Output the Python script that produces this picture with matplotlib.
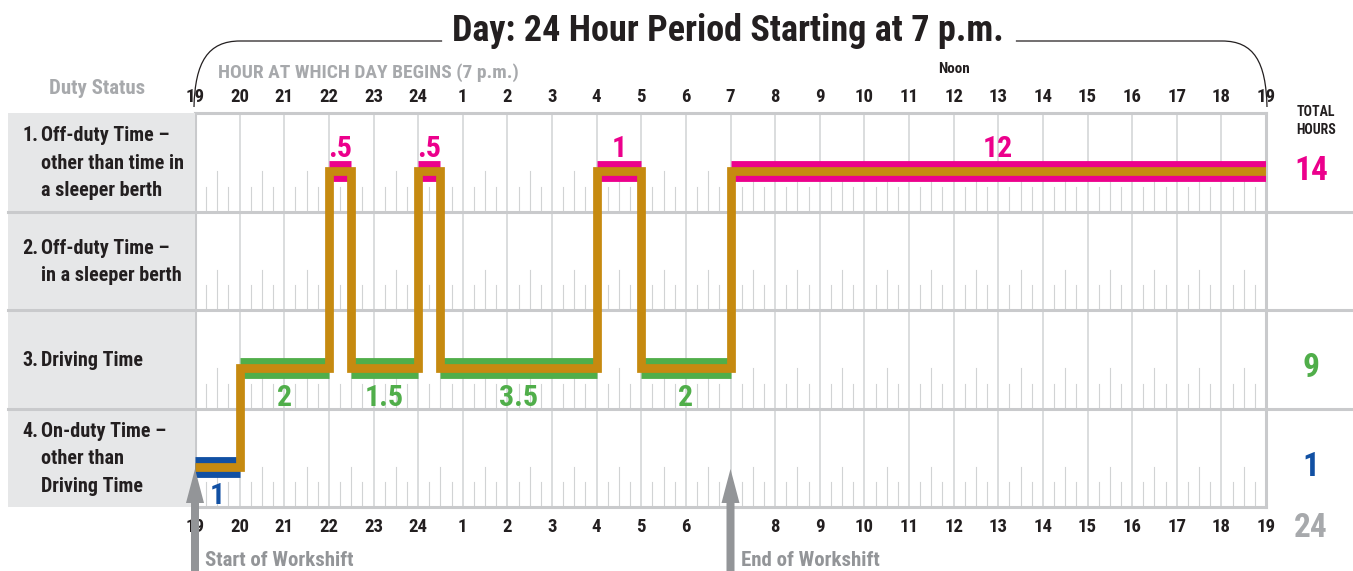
import matplotlib
matplotlib.use('Agg')
import matplotlib.pyplot as plt
from matplotlib import font_manager
from matplotlib.path import Path
from matplotlib.patches import PathPatch, Polygon, Rectangle

# ---- data -------------------------------------------------------------
top_hour_labels = ['19', '20', '21', '22', '23', '24', '1', '2', '3', '4', '5', '6',
                   '7', '8', '9', '10', '11', '12', '13', '14', '15', '16', '17', '18', '19']
bottom_hour_labels = ['19', '20', '21', '22', '23', '24', '1', '2', '3', '4', '5', '6',
                      '', '8', '9', '10', '11', '12', '13', '14', '15', '16', '17', '18', '19']
noon_index = 17

status_numbers = ['1.', '2.', '3.', '4.']
status_text = [
    ['Off-duty Time –', 'other than time in', 'a sleeper berth'],
    ['Off-duty Time –', 'in a sleeper berth'],
    ['Driving Time'],
    ['On-duty Time –', 'other than', 'Driving Time'],
]

# duty segments, hours counted from 7 p.m.
seg_start = [0, 1, 3, 3.5, 5, 5.5, 9, 10, 12]
seg_end = [1, 3, 3.5, 5, 5.5, 9, 10, 12, 24]
seg_status = [4, 3, 1, 3, 1, 3, 1, 3, 1]

shift_start = 0
shift_end = 12


# ---- font: want something narrow like the original condensed face ----
def pick_font():
    fonts = font_manager.fontManager.ttflist
    names = {f.name for f in fonts}
    for cand in ('Roboto Condensed', 'Liberation Sans Narrow', 'Noto Sans Condensed',
                 'Open Sans Condensed', 'DejaVu Sans Condensed'):
        if cand in names:
            return cand, 'normal'
    for fam in ('Noto Sans', 'Open Sans', 'Roboto', 'DejaVu Sans'):
        if any(f.name == fam and 'condensed' in str(f.stretch) for f in fonts):
            return fam, 'condensed'
    return 'Roboto', 'normal'


FAM, STRETCH = pick_font()
plt.rcParams['font.family'] = [FAM, 'DejaVu Sans']
plt.rcParams['font.stretch'] = STRETCH
plt.rcParams['font.weight'] = 'bold'

PINK = '#ec008c'
GREEN = '#50ae4a'
BLUE = '#1150a3'
GOLD = '#c68a10'
BLACK = '#231f20'
GRAY_TXT = '#a7a9ac'
ARROW = '#939598'
GRID = '#d1d3d4'
BORDER = '#c9cacc'
PANEL = '#e6e7e8'
status_color = {1: PINK, 2: None, 3: GREEN, 4: BLUE}

FW, FH = 1353, 571
L, R, T, B = 195, 1266, 113, 507
ROW_H = (B - T) / 4
LINE_OFF = 0.41   # where the duty line sits inside a row

fig = plt.figure(figsize=(FW / 100, FH / 100), dpi=100)
ax = fig.add_axes([L / FW, 1 - B / FH, (R - L) / FW, (B - T) / FH])
ax.set_xlim(0, 24)
ax.set_ylim(0, 4)


def row_y(status):
    return 4 - status + LINE_OFF


# grid: hour lines and quarter-hour ticks
ax.vlines(range(1, 24), 0, 4, color=GRID, lw=1.1, zorder=1)
for r in range(4):
    for q in range(96):
        if q % 4 == 0:
            continue
        h = 0.41 if q % 4 == 2 else 0.25
        ax.plot([q / 4, q / 4], [r, r + h], color=GRID, lw=0.8, zorder=1)
for yy in (1, 2, 3):
    ax.axhline(yy, color=BORDER, lw=2.2, zorder=1)
for s in ax.spines.values():
    s.set_color(BORDER)
    s.set_linewidth(2.2)

# coloured duty bars, then the gold step line on top
for s0, s1, st in zip(seg_start, seg_end, seg_status):
    ax.plot([s0, s1], [row_y(st)] * 2, color=status_color[st], lw=15,
            solid_capstyle='butt', zorder=3)
    dur = s1 - s0
    txt = f'{dur:g}'.lstrip('0')
    if st == 1:
        ax.text((s0 + s1) / 2, row_y(st) + 0.14, txt, color=PINK, fontsize=21.5,
                ha='center', va='baseline', zorder=5)
    else:
        ax.text((s0 + s1) / 2, row_y(st) - 0.16, txt, color=status_color[st],
                fontsize=21.5, ha='center', va='top', zorder=5)

xs, ys = [], []
for s0, s1, st in zip(seg_start, seg_end, seg_status):
    xs += [s0, s1]
    ys += [row_y(st), row_y(st)]
ax.plot(xs, ys, color=GOLD, lw=6.3, solid_joinstyle='miter',
        solid_capstyle='butt', zorder=4)

# hour labels top and bottom
ax.set_xticks(range(25))
ax.set_xticklabels(bottom_hour_labels, fontsize=13.5, color=BLACK)
ax.set_yticks([])
ax.tick_params(axis='x', length=0, pad=8, labeltop=False)
sec = ax.secondary_xaxis('top')
sec.set_xticks(range(25))
sec.set_xticklabels(top_hour_labels, fontsize=13.5, color=BLACK)
sec.tick_params(length=0, pad=5)
sec.spines['top'].set_visible(False)
ax.text(noon_index, 4.45, 'Noon', ha='center', va='center', fontsize=11, color=BLACK)

# totals
totals = {k: 0 for k in (1, 2, 3, 4)}
for s0, s1, st in zip(seg_start, seg_end, seg_status):
    totals[st] += s1 - s0

# ---- decoration layer in pixel coordinates ----------------------------
deco = fig.add_axes([0, 0, 1, 1])
deco.set_xlim(0, FW)
deco.set_ylim(FH, 0)
deco.axis('off')
deco.patch.set_visible(False)

deco.add_patch(Rectangle((8, T), L - 8, B - T, color=PANEL, zorder=0, lw=0))
for i in (1, 2, 3):
    yy = T + i * ROW_H
    deco.plot([8, L], [yy, yy], color=BORDER, lw=2.2, zorder=1)
    deco.plot([R, FW], [yy, yy], color=BORDER, lw=2.2, zorder=1)

deco.text(97, 88, 'Duty Status', ha='center', va='center', fontsize=15, color=GRAY_TXT)
for i, (num, lines) in enumerate(zip(status_numbers, status_text)):
    cy = T + (i + 0.5) * ROW_H + 1
    n = len(lines)
    for j, line in enumerate(lines):
        y = cy + (j - (n - 1) / 2) * 27.5
        if j == 0:
            deco.text(22, y, num, ha='left', va='center', fontsize=14.5, color=BLACK)
        deco.text(41, y, line, ha='left', va='center', fontsize=14.5, color=BLACK)

deco.text(218, 73, 'HOUR AT WHICH DAY BEGINS (7 p.m.)', ha='left', va='center',
          fontsize=14, color=GRAY_TXT)

deco.text(1316, 112, 'TOTAL', ha='center', va='center', fontsize=10, color=BLACK)
deco.text(1316, 130, 'HOURS', ha='center', va='center', fontsize=10, color=BLACK)
for i, st in enumerate((1, 2, 3, 4)):
    if totals[st] == 0:
        continue
    cy = T + i * ROW_H + (1 - LINE_OFF) * ROW_H
    deco.text(1311, cy, f'{totals[st]:g}', ha='center', va='center', fontsize=24,
              color=status_color[st])
deco.text(1311, 528, f'{sum(totals.values()):g}', ha='center', va='center',
          fontsize=24, color=GRAY_TXT)

# title and bracket
title = deco.text(728, 31, 'Day: 24 Hour Period Starting at 7 p.m.', ha='center',
                  va='center', fontsize=26, color=BLACK)
fig.canvas.draw()
bb = title.get_window_extent()
tx0, tx1 = bb.x0 - 10, bb.x1 + 12
by = 41
left = Path([(L - 1, 107), (L, 62), (L + 13, by), (L + 45, by), (tx0, by)],
            [Path.MOVETO, Path.CURVE4, Path.CURVE4, Path.CURVE4, Path.LINETO])
right = Path([(tx1, by), (R - 44, by), (R - 12, by), (R, 62), (R + 1, 107)],
             [Path.MOVETO, Path.LINETO, Path.CURVE4, Path.CURVE4, Path.CURVE4])
for p in (left, right):
    deco.add_patch(PathPatch(p, fill=False, ec=BLACK, lw=0.9, zorder=2))

# workshift arrows
for h, label in ((shift_start, 'Start of Workshift'), (shift_end, 'End of Workshift')):
    x0 = ax.transData.transform((h, 0))[0]
    poly = [(x0 - 4, FH), (x0 - 4, 503), (x0 - 9, 503), (x0, 469),
            (x0 + 9, 503), (x0 + 4, 503), (x0 + 4, FH)]
    deco.add_patch(Polygon(poly, closed=True, color=ARROW, lw=0, zorder=6))
    deco.text(x0 + 10, 560, label, ha='left', va='center', fontsize=15, color=ARROW)

fig.savefig('out.png', dpi=100)
